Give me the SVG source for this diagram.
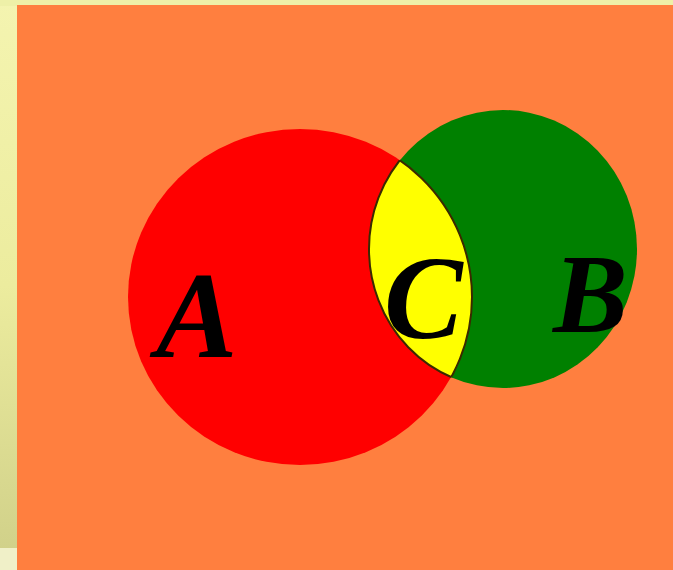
<svg xmlns="http://www.w3.org/2000/svg" width="673" height="570" viewBox="0 0 673 570">
<defs>
<linearGradient id="bg" x1="0" y1="0" x2="0" y2="1">
<stop offset="0" stop-color="#f4f4b0"/>
<stop offset="0.5" stop-color="#ecec9e"/>
<stop offset="1" stop-color="#cfcf88"/>
</linearGradient>
<clipPath id="redclip"><ellipse cx="300" cy="297" rx="172" ry="168"/></clipPath>
<clipPath id="greenclip"><ellipse cx="503" cy="249" rx="134" ry="139"/></clipPath>
</defs>
<style>
.lbl{font-family:"Liberation Serif",serif;font-style:italic;font-weight:bold;fill:#000}
</style>
<rect width="673" height="570" fill="url(#bg)"/>
<rect x="0" y="0" width="673" height="6" fill="#eef0a8"/>
<rect x="0" y="548" width="17" height="22" fill="#f0f0c8"/>
<rect x="17" y="5" width="656" height="565" fill="#ff7f3f"/>
<g id="setA"><ellipse cx="300" cy="297" rx="172" ry="168" fill="#ff0000"/></g>
<g id="setB"><ellipse cx="503" cy="249" rx="134" ry="139" fill="#008000"/></g>
<g id="setC"><ellipse cx="503" cy="249" rx="134" ry="139" fill="#ffff00" stroke="#3a2a00" stroke-width="2" clip-path="url(#redclip)"/>
<ellipse cx="300" cy="297" rx="172" ry="168" fill="none" stroke="#3a2a00" stroke-width="2" clip-path="url(#greenclip)"/></g>
<text class="lbl" x="156" y="357" font-size="122">A</text>
<text class="lbl" x="384" y="338" font-size="118">C</text>
<text class="lbl" x="553" y="332" font-size="112">B</text>
</svg>
